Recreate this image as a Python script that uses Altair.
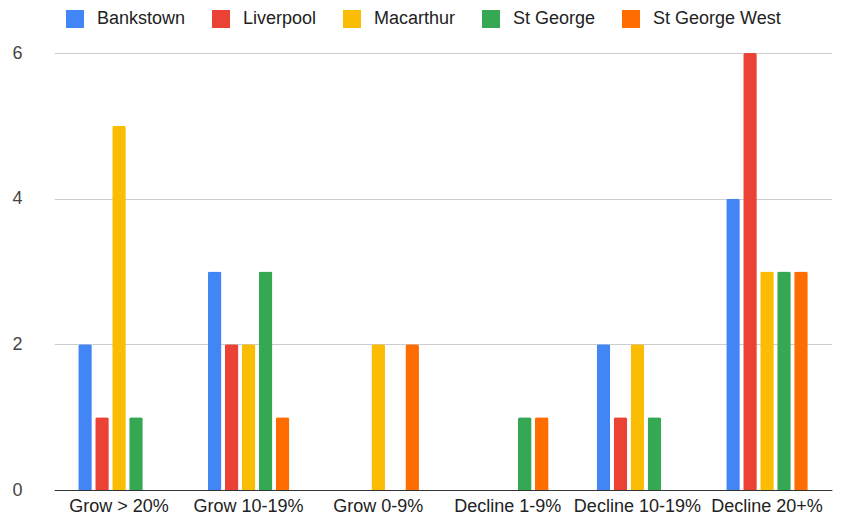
import altair as alt
import pandas as pd

categories = ["Grow > 20%", "Grow 10-19%", "Grow 0-9%", "Decline 1-9%", "Decline 10-19%", "Decline 20+%"]
series = ["Bankstown", "Liverpool", "Macarthur", "St George", "St George West"]
colors = ["#4285F4", "#EA4335", "#FBBC04", "#34A853", "#FF6D01"]

bankstown = [2, 3, 0, 0, 2, 4]
liverpool = [1, 2, 0, 0, 1, 6]
macarthur = [5, 2, 2, 0, 2, 3]
st_george = [1, 3, 0, 1, 1, 3]
st_george_west = [0, 1, 2, 1, 0, 3]

values = [bankstown, liverpool, macarthur, st_george, st_george_west]
rows = []
for s, vals in zip(series, values):
    for c, v in zip(categories, vals):
        rows.append({"cat": c, "series": s, "value": v})
df = pd.DataFrame(rows)

FONT = "Arial"

chart = alt.Chart(df).mark_bar(
    cornerRadiusTopLeft=2, cornerRadiusTopRight=2
).encode(
    x=alt.X("cat:N", sort=categories, title=None,
            scale=alt.Scale(domain=categories, range=[23.2, 800.8],
                            paddingInner=0.371, paddingOuter=0.1855),
            axis=alt.Axis(labelAngle=0, ticks=False, domain=True, domainColor="#333333",
                          labelFontSize=18, labelColor="#222222", labelFont=FONT,
                          labelPadding=7, grid=False)),
    xOffset=alt.XOffset("series:N", sort=series,
                        scale=alt.Scale(domain=series, paddingInner=0.2, paddingOuter=0)),
    y=alt.Y("value:Q", title=None,
            scale=alt.Scale(domain=[0, 6], nice=False),
            axis=alt.Axis(values=[0, 2, 4, 6], ticks=False, domain=False,
                          gridColor="#cccccc", labelFontSize=18, labelColor="#444444",
                          labelFont=FONT, labelPadding=9)),
    color=alt.Color("series:N", sort=series,
                    scale=alt.Scale(domain=series, range=colors),
                    legend=alt.Legend(title=None, orient="none", direction="horizontal",
                                      columns=5, legendX=35, legendY=-43,
                                      symbolType="square", symbolSize=324,
                                      symbolStrokeWidth=0, symbolOpacity=1,
                                      labelFontSize=18, labelColor="#222222", labelFont=FONT,
                                      labelOffset=13, columnPadding=26)),
).properties(
    width=805, height=437,
    autosize=alt.AutoSizeParams(type="none"),
    padding={"left": 23, "top": 45, "right": 0, "bottom": 30},
).configure_view(stroke=None)

chart.save("out.html", embed_options={"renderer": "svg", "actions": False})
